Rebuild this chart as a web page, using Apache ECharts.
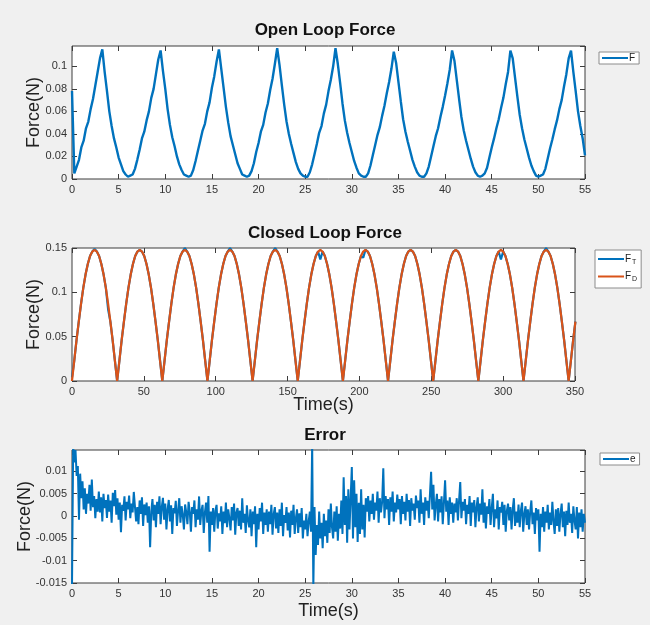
<!DOCTYPE html>
<html>
<head>
<meta charset="utf-8">
<script src="https://cdn.jsdelivr.net/npm/echarts@6/dist/echarts.min.js"></script>
<style>
    html, body { margin: 0; padding: 0; background: #f0f0f0; }
    #chart { width: 650px; height: 625px; }
</style>
</head>
<body>
<div id="chart"></div>
<script>
//开环力 (s), 采样间隔 0.25 s
var openStep = 0.25;
var openForce = [
    0.078, 0.005, 0.011, 0.017, 0.028, 0.034, 0.045, 0.051, 0.062, 0.071, 0.083, 0.095, 0.107, 0.115, 0.095, 0.078, 0.060, 0.047, 0.036, 0.028, 0.019, 0.013, 0.007, 0.004, 0.002, 0.003,
    0.004, 0.009, 0.017, 0.026, 0.036, 0.042, 0.052, 0.060, 0.072, 0.080, 0.093, 0.106, 0.114, 0.096, 0.080, 0.062, 0.048, 0.037, 0.029, 0.020, 0.013, 0.008, 0.004, 0.003, 0.002,
    0.003, 0.008, 0.016, 0.025, 0.034, 0.043, 0.049, 0.060, 0.068, 0.081, 0.091, 0.104, 0.115, 0.098, 0.081, 0.064, 0.050, 0.038, 0.030, 0.022, 0.014, 0.009, 0.004, 0.003, 0.002,
    0.003, 0.007, 0.014, 0.024, 0.032, 0.042, 0.048, 0.059, 0.067, 0.079, 0.089, 0.102, 0.116, 0.101, 0.083, 0.066, 0.051, 0.040, 0.031, 0.023, 0.015, 0.009, 0.005, 0.003, 0.002,
    0.002, 0.006, 0.013, 0.022, 0.031, 0.041, 0.047, 0.058, 0.066, 0.078, 0.088, 0.100, 0.116, 0.102, 0.085, 0.067, 0.052, 0.041, 0.032, 0.024, 0.016, 0.010, 0.005, 0.003, 0.002,
    0.002, 0.005, 0.012, 0.021, 0.030, 0.039, 0.046, 0.056, 0.065, 0.076, 0.086, 0.098, 0.113, 0.103, 0.086, 0.069, 0.053, 0.042, 0.033, 0.025, 0.017, 0.011, 0.006, 0.003, 0.002,
    0.002, 0.005, 0.011, 0.020, 0.029, 0.038, 0.045, 0.055, 0.064, 0.074, 0.085, 0.097, 0.114, 0.105, 0.088, 0.071, 0.055, 0.043, 0.034, 0.026, 0.018, 0.011, 0.006, 0.003, 0.002,
    0.003, 0.005, 0.010, 0.019, 0.028, 0.036, 0.045, 0.053, 0.063, 0.072, 0.084, 0.095, 0.114, 0.107, 0.090, 0.073, 0.057, 0.045, 0.035, 0.027, 0.019, 0.012, 0.007, 0.003, 0.002,
    0.003, 0.004, 0.009, 0.018, 0.027, 0.035, 0.044, 0.052, 0.062, 0.070, 0.082, 0.093, 0.107, 0.114, 0.095, 0.078, 0.060, 0.047, 0.036, 0.021
];

//闭环力, 采样间隔 pi/2 s
var closedStep = 1.5708;
var forceDesired = [
    0, 0.023, 0.046, 0.067, 0.087, 0.105, 0.120, 0.132, 0.141, 0.146, 0.148, 0.146, 0.141, 0.132, 0.120, 0.105, 0.087, 0.067, 0.046, 0.023,
    0, 0.023, 0.046, 0.067, 0.087, 0.105, 0.120, 0.132, 0.141, 0.146, 0.148, 0.146, 0.141, 0.132, 0.120, 0.105, 0.087, 0.067, 0.046, 0.023,
    0, 0.023, 0.046, 0.067, 0.087, 0.105, 0.120, 0.132, 0.141, 0.146, 0.148, 0.146, 0.141, 0.132, 0.120, 0.105, 0.087, 0.067, 0.046, 0.023,
    0, 0.023, 0.046, 0.067, 0.087, 0.105, 0.120, 0.132, 0.141, 0.146, 0.148, 0.146, 0.141, 0.132, 0.120, 0.105, 0.087, 0.067, 0.046, 0.023,
    0, 0.023, 0.046, 0.067, 0.087, 0.105, 0.120, 0.132, 0.141, 0.146, 0.148, 0.146, 0.141, 0.132, 0.120, 0.105, 0.087, 0.067, 0.046, 0.023,
    0, 0.023, 0.046, 0.067, 0.087, 0.105, 0.120, 0.132, 0.141, 0.146, 0.148, 0.146, 0.141, 0.132, 0.120, 0.105, 0.087, 0.067, 0.046, 0.023,
    0, 0.023, 0.046, 0.067, 0.087, 0.105, 0.120, 0.132, 0.141, 0.146, 0.148, 0.146, 0.141, 0.132, 0.120, 0.105, 0.087, 0.067, 0.046, 0.023,
    0, 0.023, 0.046, 0.067, 0.087, 0.105, 0.120, 0.132, 0.141, 0.146, 0.148, 0.146, 0.141, 0.132, 0.120, 0.105, 0.087, 0.067, 0.046, 0.023,
    0, 0.023, 0.046, 0.067, 0.087, 0.105, 0.120, 0.132, 0.141, 0.146, 0.148, 0.146, 0.141, 0.132, 0.120, 0.105, 0.087, 0.067, 0.046, 0.023,
    0, 0.023, 0.046, 0.067, 0.087, 0.105, 0.120, 0.132, 0.141, 0.146, 0.148, 0.146, 0.141, 0.132, 0.120, 0.105, 0.087, 0.067, 0.046, 0.023,
    0, 0.023, 0.046, 0.067, 0.087, 0.105, 0.120, 0.132, 0.141, 0.146, 0.148, 0.146, 0.141, 0.132, 0.120, 0.105, 0.087, 0.067, 0.046, 0.023,
    0, 0.023, 0.046, 0.067
];
var forceTracked = [
    0.004, 0.023, 0.046, 0.067, 0.087, 0.105, 0.120, 0.132, 0.141, 0.146, 0.149, 0.146, 0.141, 0.132, 0.120, 0.105, 0.081, 0.067, 0.046, 0.023,
    0, 0.023, 0.046, 0.067, 0.087, 0.105, 0.120, 0.132, 0.141, 0.146, 0.148, 0.146, 0.141, 0.132, 0.120, 0.105, 0.087, 0.067, 0.046, 0.023,
    0, 0.023, 0.046, 0.067, 0.087, 0.105, 0.120, 0.132, 0.141, 0.146, 0.150, 0.146, 0.141, 0.132, 0.120, 0.105, 0.087, 0.067, 0.046, 0.023,
    0, 0.023, 0.046, 0.067, 0.087, 0.105, 0.120, 0.132, 0.141, 0.146, 0.150, 0.146, 0.141, 0.132, 0.120, 0.105, 0.087, 0.067, 0.046, 0.023,
    0, 0.023, 0.046, 0.067, 0.087, 0.105, 0.120, 0.132, 0.141, 0.146, 0.150, 0.146, 0.141, 0.132, 0.120, 0.105, 0.087, 0.067, 0.046, 0.023,
    0, 0.023, 0.046, 0.067, 0.087, 0.105, 0.120, 0.132, 0.141, 0.146, 0.137, 0.146, 0.141, 0.132, 0.120, 0.105, 0.087, 0.067, 0.046, 0.023,
    0, 0.023, 0.046, 0.067, 0.087, 0.105, 0.120, 0.132, 0.141, 0.139, 0.148, 0.146, 0.141, 0.132, 0.120, 0.105, 0.087, 0.067, 0.046, 0.023,
    0, 0.023, 0.046, 0.067, 0.087, 0.105, 0.120, 0.132, 0.141, 0.146, 0.148, 0.146, 0.141, 0.132, 0.120, 0.105, 0.087, 0.067, 0.046, 0.023,
    0, 0.023, 0.046, 0.067, 0.087, 0.105, 0.120, 0.132, 0.141, 0.146, 0.148, 0.146, 0.141, 0.132, 0.120, 0.105, 0.087, 0.067, 0.046, 0.023,
    0, 0.023, 0.046, 0.067, 0.087, 0.105, 0.120, 0.132, 0.141, 0.146, 0.137, 0.146, 0.141, 0.132, 0.120, 0.105, 0.087, 0.067, 0.046, 0.023,
    0, 0.023, 0.046, 0.067, 0.087, 0.105, 0.120, 0.132, 0.141, 0.146, 0.150, 0.146, 0.141, 0.132, 0.120, 0.105, 0.087, 0.067, 0.046, 0.023,
    0, 0.023, 0.046, 0.067
];

//误差, 采样间隔 0.125 s (每行 1 s)
var errorStep = 0.125;
var errorValues = [
    -0.0160, 0.0155, 0.0120, 0.0148, 0.0090, 0.0112, -0.0008, 0.0095,
    0.0040, 0.0078, 0.0015, 0.0062, 0.0005, 0.0050, 0.0028, 0.0070,
    0.0012, 0.0082, 0.0020, 0.0045, -0.0005, 0.0038, 0.0010, 0.0055,
    0.0008, 0.0042, -0.0012, 0.0050, 0.0018, 0.0036, -0.0004, 0.0048,
    0.0010, 0.0035, -0.0015, 0.0052, 0.0022, 0.0058, 0.0003, 0.0040,
    -0.0008, 0.0030, -0.0036, 0.0025, 0.0012, 0.0044, -0.0010, 0.0032,
    0.0015, 0.0046, -0.0005, 0.0028, 0.0008, 0.0054, 0.0058, -0.0012,
    0.0020, -0.0018, 0.0035, 0.0005, 0.0042, -0.0022, 0.0026, 0.0002,
    0.0030, -0.0015, 0.0022, -0.0070, 0.0010, 0.0038, -0.0010, 0.0025,
    -0.0025, 0.0032, 0.0005, 0.0044, -0.0018, 0.0020, 0.0041, -0.0008,
    0.0028, -0.0030, 0.0015, 0.0036, -0.0012, 0.0024, -0.0040, 0.0018,
    0.0006, 0.0034, -0.0022, 0.0012, 0.0040, -0.0015, 0.0022, 0.0003,
    -0.0030, 0.0026, 0.0008, -0.0018, 0.0032, 0.0010, -0.0035, 0.0020,
    0.0005, 0.0035, -0.0025, 0.0015, -0.0008, 0.0044, -0.0020, 0.0012,
    0.0025, -0.0038, 0.0008, 0.0030, -0.0015, 0.0045, -0.0080, 0.0010,
    -0.0020, 0.0018, -0.0035, 0.0012, 0.0025, -0.0028, 0.0006, -0.0012,
    0.0022, -0.0040, 0.0010, -0.0016, 0.0030, -0.0025, 0.0015, -0.0005,
    -0.0032, 0.0020, -0.0010, 0.0028, -0.0042, 0.0008, 0.0018, -0.0022,
    0.0012, -0.0030, 0.0040, -0.0015, 0.0005, -0.0038, 0.0024, -0.0010,
    -0.0025, 0.0015, -0.0045, 0.0010, -0.0018, 0.0022, -0.0070, 0.0005,
    -0.0030, 0.0018, -0.0012, 0.0030, -0.0040, 0.0008, -0.0020, 0.0015,
    -0.0035, 0.0010, -0.0018, 0.0025, -0.0042, 0.0005, 0.0020, -0.0028,
    0.0008, -0.0038, 0.0015, -0.0022, 0.0030, -0.0045, 0.0002, -0.0015,
    0.0020, -0.0032, 0.0008, -0.0048, 0.0012, -0.0020, 0.0025, -0.0040,
    -0.0005, 0.0015, -0.0038, 0.0006, -0.0025, 0.0018, -0.0050, -0.0010,
    -0.0030, 0.0005, -0.0045, -0.0012, 0.0010, -0.0035, 0.0160, -0.0160,
    0.0020, -0.0087, -0.0020, -0.0065, 0.0010, -0.0050, -0.0015, -0.0072,
    0.0005, -0.0045, -0.0010, -0.0060, 0.0015, -0.0038, 0.0028, -0.0025,
    -0.0050, 0.0010, -0.0035, 0.0022, -0.0055, 0.0005, -0.0028, 0.0035,
    -0.0040, 0.0087, -0.0020, 0.0045, -0.0060, 0.0060, -0.0030, 0.0040,
    0.0110, -0.0050, 0.0080, -0.0025, 0.0050, -0.0058, 0.0030, -0.0040,
    0.0060, -0.0030, 0.0025, -0.0048, 0.0040, 0.0010, 0.0045, -0.0012,
    0.0035, 0.0005, 0.0050, -0.0008, 0.0030, 0.0012, 0.0055, -0.0015,
    0.0040, 0.0008, 0.0032, 0.0107, -0.0005, 0.0045, 0.0015, 0.0038,
    -0.0020, 0.0042, 0.0010, 0.0055, -0.0012, 0.0030, 0.0008, 0.0048,
    0.0015, 0.0038, -0.0018, 0.0045, 0.0005, 0.0032, -0.0010, 0.0050,
    0.0010, 0.0036, -0.0022, 0.0040, 0.0012, 0.0028, -0.0008, 0.0046,
    0.0018, 0.0035, -0.0015, 0.0060, 0.0005, 0.0030, -0.0020, 0.0042,
    0.0012, 0.0034, -0.0005, 0.0048, 0.0099, 0.0015, 0.0070, -0.0010,
    0.0025, 0.0050, -0.0012, 0.0038, 0.0008, 0.0044, -0.0018, 0.0030,
    0.0080, 0.0010, 0.0035, -0.0020, 0.0042, 0.0005, 0.0030, -0.0015,
    0.0028, 0.0008, 0.0040, -0.0010, 0.0035, 0.0076, -0.0005, 0.0032,
    0.0012, 0.0038, -0.0018, 0.0025, 0.0005, 0.0045, -0.0022, 0.0030,
    0.0008, 0.0036, -0.0025, 0.0020, 0.0042, -0.0012, 0.0028, 0.0003,
    0.0060, -0.0015, 0.0030, -0.0028, 0.0022, 0.0005, 0.0038, -0.0020,
    0.0018, 0.0050, -0.0025, 0.0015, -0.0005, 0.0035, -0.0030, 0.0020,
    0.0008, 0.0032, -0.0020, 0.0025, -0.0035, 0.0012, 0.0028, -0.0010,
    0.0020, -0.0030, 0.0015, 0.0040, -0.0022, 0.0010, -0.0015, 0.0026,
    -0.0025, 0.0012, 0.0030, -0.0035, 0.0005, 0.0022, -0.0020, 0.0015,
    -0.0030, 0.0010, 0.0035, -0.0018, 0.0008, -0.0040, 0.0018, -0.0010,
    0.0015, -0.0080, 0.0005, -0.0025, 0.0020, -0.0035, 0.0010, -0.0015,
    0.0025, -0.0030, 0.0008, -0.0020, 0.0032, -0.0012, -0.0040, 0.0015,
    -0.0022, 0.0018, -0.0035, 0.0005, 0.0028, -0.0025, 0.0010, -0.0045,
    0.0012, -0.0020, 0.0030, -0.0015, 0.0005, -0.0038, 0.0022, -0.0010,
    -0.0030, 0.0020, -0.0050, 0.0008, -0.0025, 0.0015, -0.0035, 0.0005,
    -0.0015
];

var BLUE = '#0072bd',
    ORANGE = '#d95319',
    AXIS = '#3c3c3c',
    FONT = 'Liberation Sans, Arial, sans-serif';

function toPairs(values, step) {
    return values.map(function(v, i) { return [i * step, v]; });
}

//每个子图: grid + 下/左坐标轴 + 上/右刻度
var grids = [
    { left: 72, top: 46, width: 513, height: 133 },
    { left: 72, top: 248, width: 503, height: 133 },
    { left: 72, top: 450, width: 513, height: 133 }
];
var xRanges = [[0, 55, 5], [0, 350, 50], [0, 55, 5]];
var yRanges = [[0, 0.118, 0.02], [0, 0.15, 0.05], [-0.015, 0.0148, 0.005]];
var xNames = ['', 'Time(s)', 'Time(s)'];
var xNameGaps = [0, 15, 19];
var yNameGaps = [29, 29, 38];

var xAxes = [], yAxes = [];
grids.forEach(function(g, k) {
    var xr = xRanges[k], yr = yRanges[k];
    var tick = { show: true, inside: true, length: 5, lineStyle: { color: AXIS, width: 1 } };
    var noLine = { show: false, onZero: false };
    xAxes.push({
        type: 'value', gridIndex: k, position: 'bottom', min: xr[0], max: xr[1], interval: xr[2],
        axisLine: noLine, axisTick: tick, splitLine: { show: false },
        axisLabel: { color: '#333', fontSize: 11, fontFamily: FONT, margin: 5 },
        name: xNames[k], nameLocation: 'middle', nameGap: xNameGaps[k], nameMoveOverlap: false,
        nameTextStyle: { color: '#222', fontSize: 18, fontFamily: FONT }
    });
    xAxes.push({
        type: 'value', gridIndex: k, position: 'top', min: xr[0], max: xr[1], interval: xr[2],
        axisLine: noLine, axisTick: tick, splitLine: { show: false }, axisLabel: { show: false }
    });
    yAxes.push({
        type: 'value', gridIndex: k, position: 'left', min: yr[0], max: yr[1], interval: yr[2],
        axisLine: noLine, axisTick: tick, splitLine: { show: false },
        axisLabel: { color: '#333', fontSize: 11, fontFamily: FONT, margin: 5, showMaxLabel: k === 1 },
        name: 'Force(N)', nameLocation: 'middle', nameGap: yNameGaps[k], nameMoveOverlap: false,
        nameTextStyle: { color: '#222', fontSize: 18, fontFamily: FONT }
    });
    yAxes.push({
        type: 'value', gridIndex: k, position: 'right', min: yr[0], max: yr[1], interval: yr[2],
        axisLine: noLine, axisTick: tick, splitLine: { show: false }, axisLabel: { show: false }
    });
});

function lineSeries(name, k, data, color, width) {
    return {
        name: name, type: 'line', xAxisIndex: 2 * k, yAxisIndex: 2 * k,
        data: data, symbol: 'none', animation: false, clip: true,
        lineStyle: { color: color, width: width }, itemStyle: { color: color }
    };
}

function legendAt(left, top, names, orient) {
    var vertical = orient === 'vertical';
    return {
        data: names, left: left, top: top, orient: orient || 'horizontal',
        backgroundColor: '#fff', borderColor: '#8c8c8c', borderWidth: 1, borderRadius: 0,
        padding: vertical ? [4, 4, 5, 3] : [1, 4, 1, 3],
        itemWidth: 26, itemHeight: 2, itemGap: 6, selectedMode: false,
        icon: 'rect',
        textStyle: {
            color: '#222', fontSize: 10, fontFamily: FONT, padding: [0, 0, 0, -4],
            rich: { sub: { fontSize: 7, padding: [6, 0, 0, 1], fontFamily: FONT, color: '#222' } }
        },
        formatter: function(name) {
            if (name === 'F_T') return 'F{sub|T}';
            if (name === 'F_D') return 'F{sub|D}';
            return name;
        }
    };
}

var titleStyle = { color: '#111', fontSize: 17, fontWeight: 'bold', fontFamily: FONT };

var chart = echarts.init(document.getElementById('chart'), null, { renderer: 'canvas' });
chart.setOption({
    backgroundColor: '#f0f0f0',
    animation: false,
    title: [
        { text: 'Open Loop Force', left: 'center', top: 22, padding: 0, textStyle: titleStyle },
        { text: 'Closed Loop Force', left: 'center', top: 225, padding: 0, textStyle: titleStyle },
        { text: 'Error', left: 'center', top: 427, padding: 0, textStyle: titleStyle }
    ],
    grid: grids.map(function(g) {
        return {
            left: g.left, top: g.top, width: g.width, height: g.height,
            show: true, backgroundColor: '#fff', borderColor: AXIS, borderWidth: 1
        };
    }),
    xAxis: xAxes,
    yAxis: yAxes,
    legend: [
        legendAt(599, 52, ['F']),
        legendAt(595, 250, ['F_T', 'F_D'], 'vertical'),
        legendAt(600, 453, ['e'])
    ],
    series: [
        lineSeries('F', 0, toPairs(openForce, openStep), BLUE, 2.4),
        lineSeries('F_T', 1, toPairs(forceTracked, closedStep), BLUE, 2.2),
        lineSeries('F_D', 1, toPairs(forceDesired, closedStep), ORANGE, 2.2),
        lineSeries('e', 2, toPairs(errorValues, errorStep), BLUE, 2)
    ]
});
</script>
</body>
</html>
